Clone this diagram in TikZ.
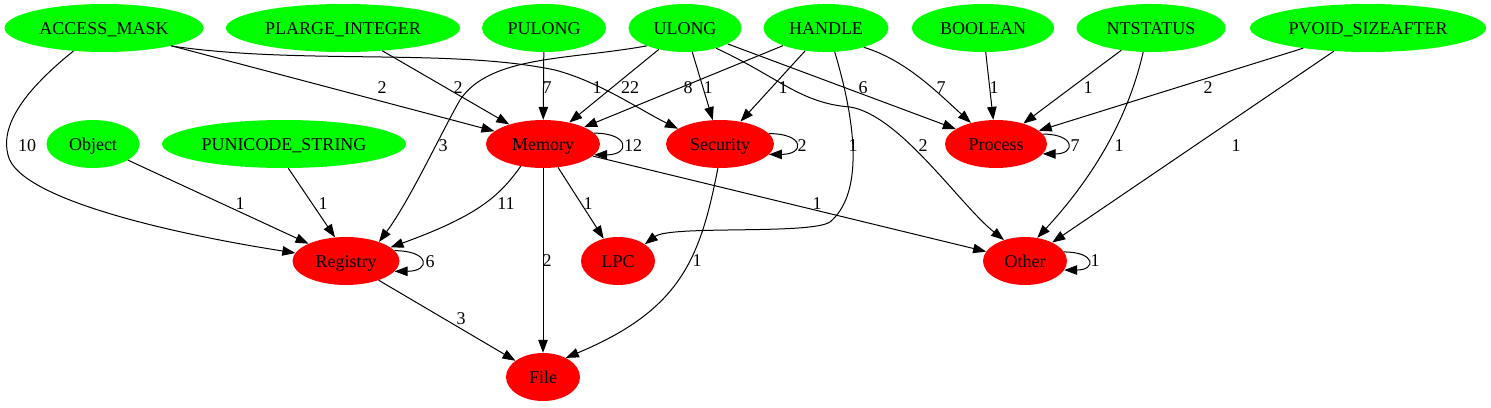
\documentclass[tikz,border=0pt]{standalone}
\usepackage{fontspec}
\setmainfont{Liberation Serif}
\usetikzlibrary{shapes.geometric,arrows.meta}
\definecolor{gvgreen}{HTML}{00FF00}
\definecolor{gvred}{HTML}{FF0000}
\newcommand{\zb}[1]{\makebox[0pt]{#1}}
\begin{document}
\begin{tikzpicture}[x=1pt,y=-1pt,
  gnode/.style={ellipse, inner sep=0pt, minimum height=48pt, text height=12pt, text depth=0pt, font=\fontsize{18}{20}\selectfont},
  src/.style={gnode, fill=gvgreen},
  dst/.style={gnode, fill=gvred},
  edge/.style={draw, line width=1pt, -{Triangle[length=13pt,width=9.5pt]}},
  lbl/.style={inner sep=0pt, text height=12pt, text depth=0pt, font=\fontsize{18}{20}\selectfont}]
\useasboundingbox (0,0) rectangle (1491,407);
% nodes
\node[src, minimum width=199] (am)  at (104,28)  {\zb{ACCESS\_MASK}};
\node[src, minimum width=234] (pli) at (343,28)  {\zb{PLARGE\_INTEGER}};
\node[src, minimum width=124] (pul) at (544,28)  {\zb{PULONG}};
\node[src, minimum width=113] (ul)  at (685,28)  {\zb{ULONG}};
\node[src, minimum width=125] (ha)  at (826,28)  {\zb{HANDLE}};
\node[src, minimum width=142] (bo)  at (983,28)  {\zb{BOOLEAN}};
\node[src, minimum width=149] (nt)  at (1151,28) {\zb{NTSTATUS}};
\node[src, minimum width=236] (pv)  at (1368,28) {\zb{PVOID\_SIZEAFTER}};
\node[src, minimum width=93]  (ob)  at (93,144)  {\zb{Object}};
\node[src, minimum width=244] (pus) at (284,144) {\zb{PUNICODE\_STRING}};
\node[dst, minimum width=114] (mem) at (543,144) {\zb{Memory}};
\node[dst, minimum width=108] (sec) at (720,144) {\zb{Security}};
\node[dst, minimum width=102] (pro) at (996,144) {\zb{Process}};
\node[dst, minimum width=107] (reg) at (346,261) {\zb{Registry}};
\node[dst, minimum width=74]  (lpc) at (618,261) {\zb{LPC}};
\node[dst, minimum width=84]  (oth) at (1025,261) {\zb{Other}};
\node[dst, minimum width=74]  (fil) at (543,377) {\zb{File}};
% edges
\draw[edge] (am.217) .. controls (25,90) and (0,125) .. (8,155) .. controls (18,200) and (180,235) .. (reg.171);
\draw[edge] (am) -- (mem);
\draw[edge] (am.-15) .. controls (300,65) and (450,48) .. (555,70) .. controls (600,82) and (640,110) .. (sec.160);
\draw[edge] (pli) -- (mem);
\draw[edge] (pul) -- (mem);
\draw[edge] (ul.205) .. controls (570,60) and (490,55) .. (460,100) .. controls (440,135) and (410,200) .. (reg.30);
\draw[edge] (ul) -- (mem);
\draw[edge] (ul) -- (sec);
\draw[edge] (ul.-33) .. controls (780,78) and (800,103) .. (850,107) .. controls (900,115) and (960,205) .. (oth.135);
\draw[edge] (ul) -- (pro);
\draw[edge] (ha) -- (mem);
\draw[edge] (ha) -- (sec);
\draw[edge] (ha.-70) .. controls (858,130) and (862,195) .. (830,222) .. controls (810,235) and (670,225) .. (lpc.32);
\draw[edge] (ha.-27) .. controls (905,60) and (935,90) .. (pro.140);
\draw[edge] (bo) -- (pro);
\draw[edge] (nt) -- (pro);
\draw[edge] (nt.-108) .. controls (1130,110) and (1100,170) .. (oth.62);
\draw[edge] (pv) -- (pro);
\draw[edge] (pv) -- (oth);
\draw[edge] (ob) -- (reg);
\draw[edge] (pus.-80) -- (reg.115);
\draw[edge] (mem.12) .. controls +(36,0) and +(36,0) .. (mem.-12);
\draw[edge] (sec.12) .. controls +(36,0) and +(36,0) .. (sec.-12);
\draw[edge] (pro.12) .. controls +(33,0) and +(33,0) .. (pro.-12);
\draw[edge] (mem.-135) .. controls (500,195) and (480,215) .. (reg.17);
\draw[edge] (mem) -- (fil);
\draw[edge] (mem) -- (lpc);
\draw[edge] (mem) -- (oth);
\draw[edge] (sec.-95) .. controls (700,260) and (680,310) .. (fil.40);
\draw[edge] (reg.12) .. controls +(36,0) and +(36,0) .. (reg.-12);
\draw[edge] (reg) -- (fil);
\draw[edge] (oth.13) .. controls +(32,0) and +(32,0) .. (oth.-13);
% labels
\node[lbl] (l1)  at (27,145)  {10};
\node[lbl] (l2)  at (382,87)  {2};
\node[lbl] (l3)  at (458,87)  {2};
\node[lbl] (l4)  at (547,87)  {7};
\node[lbl] (l5)  at (597,87)  {1};
\node[lbl] (l6)  at (630,87)  {22};
\node[lbl] (l7)  at (688,87)  {8};
\node[lbl] (l8)  at (708,87)  {1};
\node[lbl] (l9)  at (783,87)  {1};
\node[lbl] (l10) at (863,87)  {6};
\node[lbl] (l11) at (941,87)  {7};
\node[lbl] (l12) at (994,87)  {1};
\node[lbl] (l13) at (1088,87) {1};
\node[lbl] (l14) at (1208,87) {2};
\node[lbl] (l15) at (443,145) {3};
\node[lbl] (l16) at (633,145) {12};
\node[lbl] (l17) at (802,145) {2};
\node[lbl] (l18) at (853,145) {1};
\node[lbl] (l19) at (923,145) {2};
\node[lbl] (l20) at (1075,145) {7};
\node[lbl] (l21) at (1119,145) {1};
\node[lbl] (l22) at (1236,145) {1};
\node[lbl] (l23) at (240,203) {1};
\node[lbl] (l24) at (323,203) {1};
\node[lbl] (l25) at (506,203) {11};
\node[lbl] (l26) at (588,203) {1};
\node[lbl] (l27) at (817,203) {1};
\node[lbl] (l28) at (547,260) {2};
\node[lbl] (l29) at (697,260) {1};
\node[lbl] (l30) at (430,261) {6};
\node[lbl] (l31) at (1095,260) {1};
\node[lbl] (l32) at (461,318) {3};
\end{tikzpicture}
\end{document}
